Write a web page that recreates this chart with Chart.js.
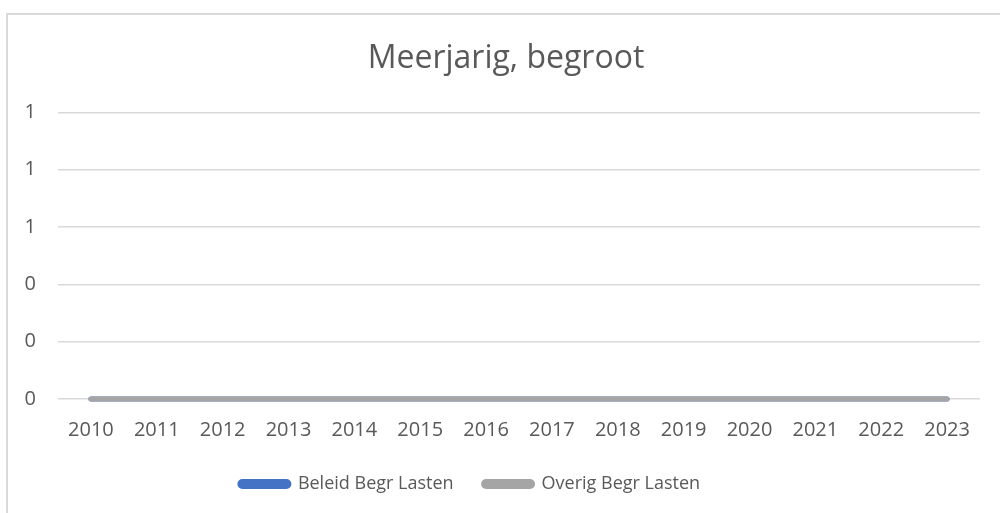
<!DOCTYPE html>
<html>
<head>
<meta charset="utf-8">
<script src="https://cdn.jsdelivr.net/npm/chart.js@4"></script>
<style>
  html, body { margin: 0; padding: 0; background: #fff; }
  #wrap { position: relative; width: 1000px; height: 513px; overflow: hidden; }
  #frame { position: absolute; left: 6px; top: 13px; width: 1100px; height: 600px; border: 2px solid #d9d9d9; box-sizing: border-box; }
  canvas { position: absolute; left: 0; top: 0; }
</style>
</head>
<body>
<div id="wrap">
  <div id="frame"></div>
  <canvas id="chart" width="1000" height="513"></canvas>
</div>
<script>
// categorieën (jaren)
const years = ['2010', '2011', '2012', '2013', '2014', '2015', '2016',
               '2017', '2018', '2019', '2020', '2021', '2022', '2023'];

// reeksen
const beleidBegrLasten = [0, 0, 0, 0, 0, 0, 0, 0, 0, 0, 0, 0, 0, 0];
const overigBegrLasten = [0, 0, 0, 0, 0, 0, 0, 0, 0, 0, 0, 0, 0, 0];

// y-as: waarden en hoe Excel ze toont (0 decimalen)
const yTickValues = [0, 0.2, 0.4, 0.6, 0.8, 1];
const yTickLabels = ['0', '0', '0', '1', '1', '1'];

const textColor = '#595959';
const fontFamily = '"Open Sans", sans-serif';

// titel en legenda horizontaal verschuiven, zoals in Excel
const boxShift = {
  id: 'boxShift',
  afterLayout(chart) {
    chart.titleBlock.left += 16;
    chart.titleBlock.right += 16;
    chart.legend.left -= 20;
    chart.legend.right -= 20;
  }
};

const ctx = document.getElementById('chart').getContext('2d');
new Chart(ctx, {
  type: 'line',
  data: {
    labels: years,
    datasets: [
      {
        label: 'Beleid Begr Lasten',
        data: beleidBegrLasten,
        borderColor: '#4472C4',
        backgroundColor: '#4472C4',
        borderWidth: 5,
        borderCapStyle: 'round',
        pointRadius: 0,
        clip: false,
        order: 2
      },
      {
        label: 'Overig Begr Lasten',
        data: overigBegrLasten,
        borderColor: '#A5A5A5',
        backgroundColor: '#A5A5A5',
        borderWidth: 5,
        borderCapStyle: 'round',
        pointRadius: 0,
        clip: false,
        order: 1
      }
    ]
  },
  plugins: [boxShift],
  options: {
    responsive: false,
    animation: false,
    layout: { padding: { top: 28, right: 20, bottom: 10, left: 0 } },
    plugins: {
      title: {
        display: true,
        text: 'Meerjarig, begroot',
        color: textColor,
        font: { family: fontFamily, size: 32, weight: 'normal' },
        padding: { top: 12, bottom: 34 }
      },
      legend: {
        position: 'bottom',
        labels: {
          color: textColor,
          font: { family: fontFamily, size: 18 },
          boxWidth: 49,
          boxHeight: 5,
          useBorderRadius: true,
          borderRadius: 2.5,
          padding: 30,
          sort: (a, b) => a.datasetIndex - b.datasetIndex
        }
      },
      tooltip: { enabled: false }
    },
    scales: {
      x: {
        offset: true,
        grid: { display: false, drawTicks: false },
        border: { display: false },
        afterFit: scale => { scale.height = 46; },
        ticks: {
          color: textColor,
          font: { family: fontFamily, size: 20 },
          padding: 19,
          maxRotation: 0
        }
      },
      y: {
        min: 0,
        max: 1,
        afterBuildTicks: scale => {
          scale.ticks = yTickValues.map(v => ({ value: v }));
        },
        afterFit: scale => { scale.width = 58; },
        grid: { color: '#d9d9d9', lineWidth: 1.5, drawTicks: false },
        border: { display: false },
        ticks: {
          color: textColor,
          font: { family: fontFamily, size: 20 },
          padding: 22,
          callback: (value, index) => yTickLabels[index]
        }
      }
    }
  }
});
</script>
</body>
</html>
